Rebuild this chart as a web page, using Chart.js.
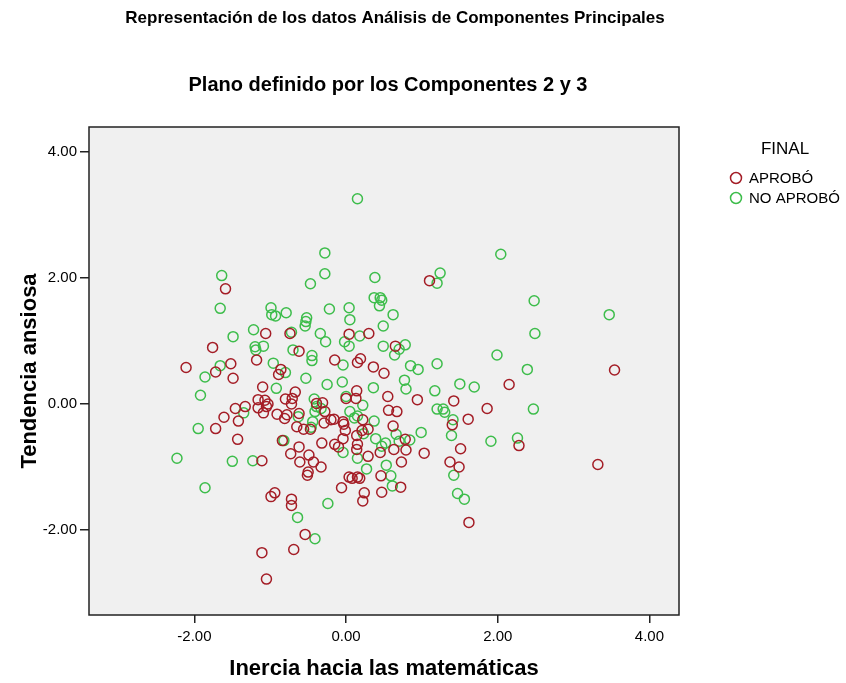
<!DOCTYPE html>
<html>
<head>
<meta charset="utf-8">
<script src="https://cdn.jsdelivr.net/npm/chart.js@4"></script>
<style>
  body { margin: 0; background: #fff; }
</style>
</head>
<body>
<canvas id="pcaChart" width="846" height="683"></canvas>
<script>
  const seriesNames = ['APROBÓ', 'NO APROBÓ'];
  const xTicks = [-2, 0, 2, 4];
  const yTicks = [-2, 0, 2, 4];

  // [componente 2, componente 3]
  const aprobo = [
    [-1.59, 1.83], [-1.06, 1.12], [-0.74, 1.12], [1.10, 1.96], [0.04, 1.11], [0.30, 1.12],
    [-1.76, 0.90], [-0.62, 0.84], [-2.11, 0.58], [-1.52, 0.64], [-1.72, 0.51], [-1.18, 0.70],
    [-0.86, 0.55], [-0.89, 0.47], [-1.49, 0.41], [-1.10, 0.27], [-0.67, 0.19], [-0.80, 0.08],
    [-0.71, 0.09], [-0.72, 0.00], [-1.16, 0.07], [-1.07, 0.06], [-1.03, 0.00], [-1.05, -0.04],
    [-1.16, -0.06], [-1.33, -0.04], [-1.46, -0.07], [-1.09, -0.14], [-0.91, -0.16], [-0.78, -0.17],
    [-0.81, -0.23], [-0.62, -0.15], [-0.39, 0.01], [-1.61, -0.21], [-1.42, -0.27], [-0.65, -0.36],
    [-0.56, -0.40], [-0.47, -0.40], [-1.72, -0.39], [-1.43, -0.56], [-0.84, -0.58], [-0.62, -0.68],
    [-0.73, -0.79], [-0.49, -0.81], [-0.61, -0.92], [-0.43, -0.92], [-1.11, -0.90],
    [0.65, 0.92], [-0.15, 0.70], [0.15, 0.66], [0.19, 0.72], [0.36, 0.59], [0.50, 0.49],
    [0.14, 0.21], [0.13, 0.09], [0.00, 0.09], [0.55, 0.12], [0.94, 0.07], [-0.31, 0.02],
    [0.56, -0.10], [0.67, -0.12], [1.42, 0.05], [1.40, -0.33], [1.61, -0.24], [1.51, -0.71],
    [1.37, -0.92], [1.49, -1.00], [-0.16, -0.24], [-0.20, -0.25], [-0.28, -0.12], [-0.29, -0.30],
    [-0.04, -0.28], [-0.03, -0.32], [-0.01, -0.42], [0.22, -0.25], [0.29, -0.40], [0.21, -0.42],
    [0.62, -0.35], [0.14, -0.50], [-0.04, -0.55], [0.78, -0.56], [-0.32, -0.62], [-0.15, -0.64],
    [-0.10, -0.68], [0.15, -0.64], [0.14, -0.72], [0.45, -0.77], [0.63, -0.72], [0.79, -0.73],
    [1.03, -0.78], [0.29, -0.83], [0.73, -0.92], [-0.33, -1.00],
    [3.54, 0.54], [2.15, 0.31], [1.86, -0.07], [2.28, -0.66], [3.32, -0.96],
    [-0.94, -1.41], [-0.99, -1.47], [-0.72, -1.51], [-0.72, -1.61], [-0.54, -2.07], [-1.11, -2.36],
    [-0.69, -2.31], [-1.05, -2.78], [-0.51, -1.13], [-0.50, -1.08],
    [0.04, -1.16], [0.08, -1.18], [0.18, -1.18], [0.15, -1.16], [0.46, -1.14], [0.72, -1.32],
    [-0.06, -1.33], [0.24, -1.41], [0.22, -1.54], [0.47, -1.40], [1.62, -1.88]
  ];

  const noAprobo = [
    [-1.64, 2.04], [-1.66, 1.52], [-0.99, 1.53], [-0.98, 1.42], [-0.93, 1.40], [-0.79, 1.45],
    [-0.47, 1.91], [-0.52, 1.37], [-0.53, 1.31], [-0.54, 1.24], [-1.22, 1.18], [-0.72, 1.14],
    [-1.49, 1.07], [-0.34, 1.12], [0.15, 3.26], [-0.28, 2.40], [-0.28, 2.07], [0.38, 2.01],
    [1.24, 2.08], [1.20, 1.92], [0.37, 1.69], [0.45, 1.69], [0.47, 1.65], [0.44, 1.56],
    [-0.22, 1.51], [0.04, 1.53], [0.05, 1.34], [0.62, 1.42], [0.49, 1.24], [0.18, 1.08],
    [-0.02, 0.99], [-0.27, 0.99], [0.78, 0.94], [2.04, 2.38], [2.48, 1.64], [3.47, 1.42],
    [2.49, 1.12],
    [-1.20, 0.91], [-1.09, 0.92], [-1.19, 0.86], [-0.70, 0.86], [-0.45, 0.77], [-0.45, 0.69],
    [-1.66, 0.61], [-0.96, 0.65], [-0.80, 0.50], [-1.86, 0.43], [-0.53, 0.41], [-0.92, 0.25],
    [-1.92, 0.14], [-1.35, -0.14], [-0.63, -0.20], [-0.42, 0.08], [-0.39, -0.04], [-0.41, -0.12],
    [-0.44, -0.28], [-0.46, -0.37], [-1.95, -0.39], [-0.82, -0.58], [-2.23, -0.86], [-1.50, -0.91],
    [-1.23, -0.90],
    [0.04, 0.92], [0.49, 0.92], [0.70, 0.87], [0.64, 0.78], [-0.04, 0.62], [0.85, 0.61],
    [0.95, 0.55], [1.20, 0.64], [-0.25, 0.31], [-0.05, 0.35], [0.77, 0.38], [0.79, 0.24],
    [0.36, 0.26], [1.17, 0.21], [1.50, 0.32], [1.69, 0.27], [0.00, 0.12], [0.22, -0.02],
    [-0.33, -0.07], [1.20, -0.08], [1.28, -0.08], [1.30, -0.13], [1.41, -0.25], [1.39, -0.50],
    [0.05, -0.12], [0.11, -0.22], [0.15, -0.19], [0.37, -0.27], [0.23, -0.47], [0.66, -0.48],
    [0.99, -0.45], [0.39, -0.55], [0.70, -0.59], [0.84, -0.57], [0.47, -0.67], [0.52, -0.62],
    [-0.04, -0.77], [0.15, -0.86], [0.53, -0.97],
    [1.99, 0.78], [2.39, 0.55], [2.47, -0.08], [1.91, -0.59], [2.26, -0.54],
    [-1.86, -1.33], [-0.64, -1.80], [-0.41, -2.14],
    [0.27, -1.03], [0.59, -1.14], [0.61, -1.30], [-0.24, -1.58], [1.42, -1.13], [1.47, -1.42],
    [1.56, -1.51]
  ];

  const red = '#a41d26';
  const green = '#3dbd4b';
  const fontFamily = 'Arial, "Liberation Sans", sans-serif';

  function toPoints(rows) {
    return rows.map(([x, y]) => ({ x, y }));
  }

  const framePlugin = {
    id: 'frame',
    beforeDatasetsDraw(chart) {
      const { ctx, chartArea: a } = chart;
      ctx.save();
      ctx.fillStyle = '#f0f0f0';
      ctx.fillRect(a.left, a.top, a.right - a.left, a.bottom - a.top);
      ctx.restore();
    },
    afterDraw(chart) {
      const { ctx, chartArea: a } = chart;
      ctx.save();
      ctx.strokeStyle = '#222';
      ctx.lineWidth = 1.5;
      ctx.strokeRect(a.left, a.top, a.right - a.left, a.bottom - a.top);

      // titulos
      ctx.fillStyle = '#000';
      ctx.textAlign = 'center';
      ctx.textBaseline = 'middle';
      ctx.font = 'bold 17px ' + fontFamily;
      ctx.fillText('Representación de los datos Análisis de Componentes Principales', 395, 18);
      ctx.font = 'bold 20px ' + fontFamily;
      ctx.fillText('Plano definido por los Componentes 2 y 3', 388, 85);

      // leyenda
      ctx.font = '17px ' + fontFamily;
      ctx.fillText('FINAL', 785, 149);
      ctx.textAlign = 'left';
      ctx.font = '15px ' + fontFamily;
      const colors = [red, green];
      seriesNames.forEach((name, i) => {
        const y = 178 + i * 20;
        ctx.beginPath();
        ctx.arc(736, y, 5.5, 0, Math.PI * 2);
        ctx.strokeStyle = colors[i];
        ctx.lineWidth = 1.5;
        ctx.stroke();
        ctx.fillText(name, 749, y + 1);
      });
      ctx.restore();
    }
  };

  function axis(ticksList, min, max, titleText, fit) {
    return {
      type: 'linear',
      min: min,
      max: max,
      afterBuildTicks: (scale) => {
        scale.ticks = ticksList.map((v) => ({ value: v }));
      },
      afterFit: fit,
      ticks: {
        callback: (v) => Number(v).toFixed(2),
        color: '#000',
        font: { family: fontFamily, size: 15 },
        padding: 3,
      },
      grid: {
        drawOnChartArea: false,
        drawTicks: true,
        tickLength: 9,
        color: '#222',
        lineWidth: 1.5,
      },
      border: { display: false },
      title: {
        display: true,
        text: titleText,
        color: '#000',
        font: { family: fontFamily, size: 22, weight: 'bold' },
      },
    };
  }

  const ctx = document.getElementById('pcaChart').getContext('2d');
  const xAxis = axis(xTicks, -3.39, 4.39, 'Inercia hacia las matemáticas', (s) => { s.height = 68; });
  xAxis.title.padding = { top: 0, bottom: 1 };
  xAxis.ticks.padding = 5;
  xAxis.grid.tickLength = 8;
  const yAxis = axis(yTicks, -3.35, 4.40, 'Tendencia ansiosa', (s) => { s.width = 89; });
  yAxis.title.padding = { top: 17, bottom: 0 };

  const chart = new Chart(ctx, {
    type: 'scatter',
    data: {
      datasets: [
        {
          label: seriesNames[0],
          data: toPoints(aprobo),
          borderColor: red,
          backgroundColor: 'rgba(0,0,0,0)',
          pointRadius: 5,
          borderWidth: 1.5,
        },
        {
          label: seriesNames[1],
          data: toPoints(noAprobo),
          borderColor: green,
          backgroundColor: 'rgba(0,0,0,0)',
          pointRadius: 5,
          borderWidth: 1.5,
        },
      ],
    },
    options: {
      responsive: false,
      animation: false,
      layout: { padding: { top: 127, right: 167, left: 0, bottom: 0 } },
      plugins: {
        legend: { display: false },
        title: { display: false },
        tooltip: { enabled: false },
      },
      scales: { x: xAxis, y: yAxis },
    },
    plugins: [framePlugin],
  });
</script>
</body>
</html>
